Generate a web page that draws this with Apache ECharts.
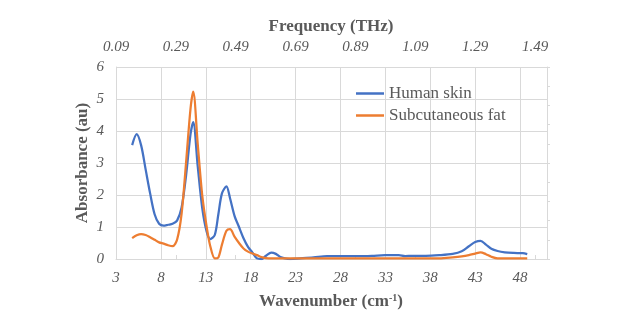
<!DOCTYPE html>
<html>
<head>
<meta charset="utf-8">
<script src="https://cdn.jsdelivr.net/npm/echarts@6/dist/echarts.min.js"></script>
<style>html,body{margin:0;padding:0;background:#fff;}#c{width:640px;height:330px;}</style>
</head>
<body>
<div id="c"></div>
<script>
const wavenumber = [4.8,5.3,5.8,6.3,6.8,7.3,7.8,8.3,8.8,9.3,9.8,10.3,10.8,11.3,11.6,12.1,12.6,13.1,13.5,14.0,14.4,14.8,15.3,15.7,16.2,16.7,17.2,17.7,18.2,18.7,19.2,19.7,20.3,20.8,21.3,21.8,22.4,23.5,25,26.5,28,30,31.5,33,34.5,35.2,36,37.5,39,40.5,41.5,42.3,43,43.6,44.2,44.8,45.5,46.3,47.3,48.3,48.8];
const humanSkin = [3.56,3.9,3.55,2.8,2.05,1.4,1.1,1.04,1.07,1.1,1.2,1.6,2.6,3.9,4.28,2.9,1.6,0.85,0.62,0.75,1.4,2.05,2.27,1.9,1.35,1.0,0.65,0.38,0.2,0.02,0.0,0.1,0.2,0.16,0.06,0.02,0.0,0.02,0.05,0.09,0.09,0.09,0.1,0.12,0.12,0.09,0.1,0.1,0.12,0.16,0.24,0.4,0.53,0.57,0.45,0.32,0.25,0.21,0.19,0.18,0.15];
const subcutaneousFat = [0.65,0.74,0.78,0.75,0.68,0.6,0.52,0.48,0.43,0.4,0.6,1.4,3.0,4.7,5.23,3.6,2.0,1.0,0.4,0.02,0.05,0.45,0.88,0.93,0.7,0.5,0.33,0.23,0.17,0.12,0.06,0.03,0.02,0.02,0.02,0.02,0.02,0.02,0.02,0.02,0.02,0.02,0.02,0.02,0.02,0.02,0.02,0.02,0.02,0.05,0.08,0.12,0.17,0.21,0.15,0.07,0.02,0.02,0.02,0.02,0.02];
const seriesNames = ['Human skin','Subcutaneous fat'];
const freqOffset = 0.09; // THz at wavenumber 3
const freqPerWavenumber = 0.03;

const serif = '"Liberation Serif","Times New Roman",serif';
const txt = '#595959';
const gridCol = '#d9d9d9';

const chart = echarts.init(document.getElementById('c'), null, {renderer:'canvas'});
chart.setOption({
  animation:false,
  backgroundColor:'#fff',
  grid:{left:116, right:93, top:67, bottom:71, containLabel:false},
  legend:{
    data:seriesNames, orient:'vertical', left:356, top:85, padding:0,
    icon:'rect', itemWidth:28, itemHeight:2.5, itemGap:5,
    textStyle:{fontFamily:serif, fontSize:17, color:txt, lineHeight:17}
  },
  xAxis:[{
    type:'value', min:3, max:51, interval:5, position:'bottom',
    axisLine:{show:true, lineStyle:{color:gridCol, width:1}},
    axisTick:{show:false},
    axisLabel:{showMaxLabel:false, fontFamily:serif, fontStyle:'italic', fontSize:15, color:txt, margin:12},
    splitLine:{show:true, lineStyle:{color:gridCol, width:1}}
  },{
    type:'value', min:0, max:(51-3)*freqPerWavenumber, interval:0.2, position:'top',
    axisLine:{show:false},
    axisTick:{show:true, length:4, lineStyle:{color:gridCol}},
    axisLabel:{showMaxLabel:false, fontFamily:serif, fontStyle:'italic', fontSize:15, color:txt, margin:12,
      formatter:v=>(v+freqOffset).toFixed(2)},
    splitLine:{show:false}
  }],
  yAxis:[{
    type:'value', min:0, max:6, interval:1,
    axisLine:{show:true, lineStyle:{color:gridCol}},
    axisTick:{show:false},
    axisLabel:{fontFamily:serif, fontStyle:'italic', fontSize:15, color:txt, margin:12},
    splitLine:{show:true, lineStyle:{color:gridCol, width:1}}
  },{
    type:'value', min:0, max:10, interval:1, position:'right',
    axisLine:{show:true, lineStyle:{color:gridCol}},
    axisTick:{show:true, length:3, lineStyle:{color:gridCol}},
    axisLabel:{show:false},
    splitLine:{show:false}
  }],
  series:[{
    name:seriesNames[0], type:'line', xAxisIndex:0, yAxisIndex:0,
    data:wavenumber.map((w,i)=>[w,humanSkin[i]]),
    symbol:'none', smooth:0.3, color:'#4472C4', lineStyle:{width:2.25, color:'#4472C4'}
  },{
    name:seriesNames[1], type:'line', xAxisIndex:0, yAxisIndex:0,
    data:wavenumber.map((w,i)=>[w,subcutaneousFat[i]]),
    symbol:'none', smooth:0.3, color:'#ED7D31', lineStyle:{width:2.25, color:'#ED7D31'}
  }],
  graphic:[{
    type:'text', x:331, y:27,
    style:{text:'Frequency (THz)', font:'bold 17px '+serif, fill:txt, textAlign:'center', textVerticalAlign:'middle'}
  },{
    type:'text', x:331, y:302,
    style:{
      text:'{a|Wavenumber (cm}{s|-1}{a|)}',
      textAlign:'center', textVerticalAlign:'middle', fill:txt,
      rich:{
        a:{fontFamily:serif, fontWeight:'bold', fontSize:17, fill:txt, color:txt},
        s:{fontFamily:serif, fontWeight:'bold', fontSize:10, fill:txt, color:txt, padding:[0,0,8,0]}
      }
    }
  },{
    type:'text', x:83, y:163, rotation:Math.PI/2,
    style:{text:'Absorbance (au)', font:'bold 17px '+serif, fill:txt, textAlign:'center', textVerticalAlign:'middle'}
  }]
});
</script>
</body>
</html>
